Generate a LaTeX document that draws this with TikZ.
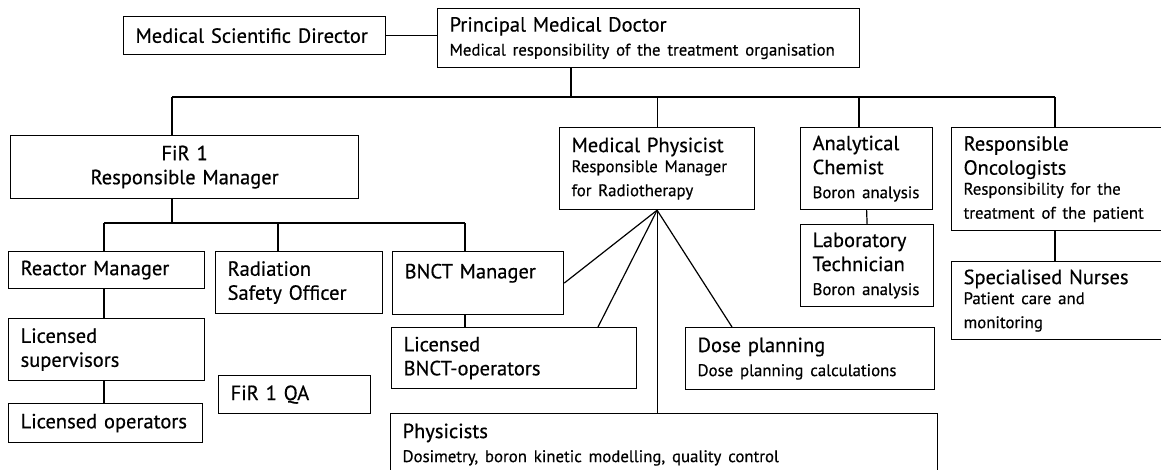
\documentclass[tikz,border=0pt]{standalone}
\usepackage{fontspec}
\setmainfont{PT Sans}[FakeBold=0.5]

\newcommand\rolefont{\fontsize{20.5}{24}\selectfont}
\newcommand\taskfont{\fontsize{16.8}{20}\selectfont}

\tikzset{
  box/.style={draw, line width=1.2pt, anchor=north west, inner xsep=12pt, inner ysep=0pt,
              align=left, font=\rolefont},
  link/.style={line width=1.2pt},
}

\begin{document}
\begin{tikzpicture}[x=1pt,y=-1pt]
    \useasboundingbox (0,0) rectangle (1161,470);

    % head of the organisation
    \node[box, text width=238pt, minimum height=38pt] (msd) at (123,16) {Medical Scientific Director};
    \node[box, text width=398pt, minimum height=59pt] (pmd) at (437,8)
        {Principal Medical Doctor\\\taskfont Medical responsibility of the treatment organisation};

    % second level
    \node[box, align=center, text width=324pt, minimum height=63pt] (fir) at (10,135) {FiR 1\\Responsible Manager};
    \node[box, text width=171pt, minimum height=82pt] (mp) at (559,127)
        {Medical Physicist\\\taskfont Responsible Manager\\for Radiotherapy};
    \node[box, text width=108pt, minimum height=82pt] (ac) at (800,127)
        {Analytical\\Chemist\\\taskfont Boron analysis};
    \node[box, text width=206pt, minimum height=103pt] (ro) at (951,127)
        {Responsible\\Oncologists\\\taskfont Responsibility for the\\treatment of the patient};

    % under the chemist and the oncologists
    \node[box, text width=109pt, minimum height=82pt] (lt) at (800,224)
        {Laboratory\\Technician\\\taskfont Boron analysis};
    \node[box, text width=206pt, minimum height=78pt] (sn) at (951,261)
        {Specialised Nurses\\\taskfont Patient care and\\monitoring};

    % reactor side
    \node[box, text width=172pt, minimum height=37pt] (rm) at (8,251) {Reactor Manager};
    \node[box, text width=143pt, minimum height=62pt] (rso) at (215,251) {Radiation\\Safety Officer};
    \node[box, text width=147pt, minimum height=63pt, text depth=24pt] (bm) at (392,251) {BNCT Manager};
    \node[box, text width=172pt, minimum height=62pt] (ls) at (8,318) {Licensed\\supervisors};
    \node[box, text width=170pt, minimum height=39pt] (lo) at (8,403) {Licensed operators};
    \node[box, text width=128pt, minimum height=38pt] (qa) at (218,375) {FiR 1 QA};
    \node[box, text width=221pt, minimum height=61pt] (lbo) at (391,327) {Licensed\\BNCT-operators};

    % physics side
    \node[box, text width=225pt, minimum height=62pt] (dp) at (685,327)
        {Dose planning\\\taskfont Dose planning calculations};
    \node[box, text width=523pt, minimum height=62pt] (phy) at (390,413)
        {Physicists\\\taskfont Dosimetry, boron kinetic modelling, quality control};

    % junctions of the two buses
    \coordinate (bus) at (571,97);
    \coordinate (firtop) at (172,97);
    \coordinate (actop) at (859,97);
    \coordinate (rotop) at (1055,97);
    \coordinate (rmtop) at (104,223);
    \coordinate (rsotop) at (278,223);
    \coordinate (bmtop) at (465,223);

    % top bus
    \draw[link] (msd.east) -- (msd.east -| pmd.west);
    \draw[link] (pmd.south -| bus) -- (bus);
    \draw[link] (firtop) -- (rotop);
    \draw[link] (firtop) -- (firtop |- fir.north);
    \draw[link] (mp.north |- bus) -- (mp.north);
    \draw[link] (actop) -- (actop |- ac.north);
    \draw[link] (rotop) -- (rotop |- ro.north);

    % bus under FiR 1
    \draw[link] (fir.south -| firtop) -- (firtop |- rmtop);
    \draw[link] (rmtop) -- (bmtop);
    \draw[link] (rmtop) -- (rmtop |- rm.north);
    \draw[link] (rsotop) -- (rsotop |- rso.north);
    \draw[link] (bmtop) -- (bmtop |- bm.north);

    % vertical chains
    \draw[link] (rm.south -| rmtop) -- (ls.north -| rmtop);
    \draw[link] (ls.south -| rmtop) -- (lo.north -| rmtop);
    \draw[link] (bm.south -| bmtop) -- (lbo.north -| bmtop);
    \draw[link] (ac.south) -- (lt.north);
    \draw[link] (ro.south -| rotop) -- (sn.north -| rotop);

    % fan out of the medical physicist
    \draw[link] (mp.south) -- (bm.east);
    \draw[link] (mp.south) -- ([xshift=207pt]lbo.north west);
    \draw[link] (mp.south) -- (mp.south |- phy.north);
    \draw[link] (mp.south) -- ([xshift=47pt]dp.north west);
\end{tikzpicture}
\end{document}
